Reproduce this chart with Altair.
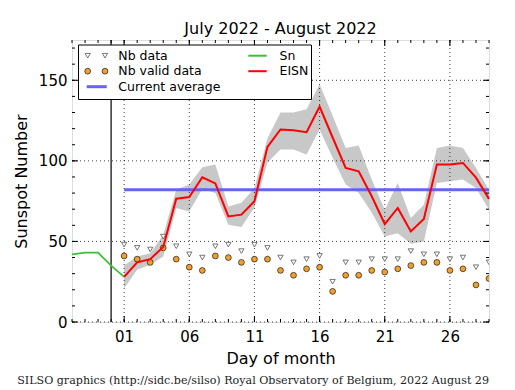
import altair as alt
import pandas as pd

# ---------------- data ----------------
days = list(range(1, 30))
eisn = [28, 37, 39, 46.5, 76.5, 77.5, 89.8, 86, 65.5, 66.6, 75, 108.7, 119.5, 119, 117.8,
        133.6, 114.5, 95.6, 93.5, 78, 60.8, 70.8, 56.2, 63.9, 97.7, 97.7, 98.7, 89.6, 76.4]
eisn_upper = [35, 40.6, 42.7, 54, 82, 85.3, 96, 97.7, 71.7, 74, 83, 114, 130, 130, 132,
              147.5, 128, 108, 109.5, 88.4, 69.7, 86.3, 64.5, 72.8, 108, 109.5, 108, 95.6, 82]
eisn_lower = [21, 32.4, 35.5, 40.6, 70.8, 68.6, 82.6, 80, 60.4, 59, 71, 99, 107, 107, 104,
              119.5, 102, 85.3, 80, 68, 53, 55, 48.5, 50, 86.3, 87.3, 88.4, 83.2, 69.7]
nb_data = [48, 46, 45, 53, 47, 42, 40, 47, 48, 44, 48, 46, 40, 37, 39,
           41, 25, 37, 37, 39, 39, 39, 44, 42, 42, 39, 40, 34, 37]
nb_valid = [41, 39, 37, 46, 39, 34, 32, 41, 40, 37, 39, 39, 32, 29, 33,
            34, 19, 29, 29, 32, 31, 33, 35, 37, 37, 32, 33, 23, 27]
sn_days = [-3, -2, -1, 0, 1]
sn_values = [42, 43, 43, 35, 28]
current_average = 82
average_days = [1, 29]
boundary_day = 0
x_domain = [-3, 29]
y_domain = [0, 175]
x_ticks = [1, 6, 11, 16, 21, 26]
x_minor = list(range(-3, 30))
y_ticks = [0, 50, 100, 150]
y_minor = list(range(0, 176, 10))
title_text = "July 2022 - August 2022"
footer_text = "SILSO graphics (http://sidc.be/silso) Royal Observatory of Belgium, 2022 August 29"

# ---------------- frames ----------------
W, H = 417, 282
main = pd.DataFrame({"day": days, "eisn": eisn, "upper": eisn_upper, "lower": eisn_lower,
                     "nb": nb_data, "valid": nb_valid})
sn = pd.DataFrame({"day": sn_days, "sn": sn_values})
avg = pd.DataFrame({"day": average_days, "avg": [current_average] * len(average_days)})
bnd = pd.DataFrame({"day": [boundary_day]})
xt = pd.DataFrame({"day": x_ticks})
xm = pd.DataFrame({"day": x_minor})
yt = pd.DataFrame({"v": y_ticks})
ym = pd.DataFrame({"v": y_minor})
one = alt.Data(values=[{"k": 1}])

FONT = "DejaVu Sans"
xs = alt.Scale(domain=x_domain, nice=False, zero=False)
ys = alt.Scale(domain=y_domain, nice=False, zero=False)
xax = alt.Axis(values=x_ticks, labelExpr="datum.value < 10 ? '0' + datum.value : '' + datum.value",
               labelFont=FONT, labelFontSize=15, labelColor="black", labelPadding=7,
               ticks=False, domain=False, grid=False, titleFont=FONT, titleFontSize=16,
               titleFontWeight="normal", titleColor="black", titlePadding=6)
yax = alt.Axis(values=y_ticks, labelFont=FONT, labelFontSize=15, labelColor="black", labelPadding=5,
               ticks=False, domain=False, grid=False, titleFont=FONT, titleFontSize=16,
               titleFontWeight="normal", titleColor="black", titlePadding=9)


def X(f="day"):
    return alt.X(f"{f}:Q", scale=xs, axis=xax, title="Day of month")


def Y(f):
    return alt.Y(f"{f}:Q", scale=ys, axis=yax, title="Sunspot Number")


band = alt.Chart(main).mark_area(color="#c8c8c8", opacity=1).encode(
    x=X(), y=Y("upper"), y2="lower")

grid_dash = [1, 3]
gx = alt.Chart(xt).mark_rule(color="black", strokeWidth=1, strokeDash=grid_dash, opacity=0.75).encode(
    x=X(), y=alt.value(0), y2=alt.value(H))
gy = alt.Chart(yt).mark_rule(color="black", strokeWidth=1, strokeDash=grid_dash, opacity=0.75).encode(
    y=Y("v"), x=alt.value(0), x2=alt.value(W))

vline = alt.Chart(bnd).mark_rule(color="black", strokeWidth=1.2).encode(
    x=X(), y=alt.value(0), y2=alt.value(H))

tri = alt.Chart(main).mark_point(shape="triangle-down", size=28, filled=True, fill="white",
                                 stroke="#555555", strokeWidth=0.8, opacity=1, clip=True).encode(
    x=X(), y=Y("nb"))
circ = alt.Chart(main).mark_point(shape="circle", size=34, filled=True, fill="#f0a030",
                                  stroke="black", strokeWidth=0.6, opacity=1, clip=True).encode(
    x=X(), y=Y("valid"))
avg_line = alt.Chart(avg).mark_line(color="#6464f0", strokeWidth=3, clip=True).encode(
    x=X(), y=Y("avg"))
sn_line = alt.Chart(sn).mark_line(color="#3cc03c", strokeWidth=1.8).encode(
    x=X(), y=Y("sn"))
eisn_line = alt.Chart(main).mark_line(color="#ff0000", strokeWidth=2).encode(
    x=X(), y=Y("eisn"))

# inward ticks on all four sides
tick_layers = []
for data, length in ((xt, 6), (xm, 3)):
    tick_layers.append(alt.Chart(data).mark_rule(color="black", strokeWidth=1).encode(
        x=X(), y=alt.value(H), y2=alt.value(H - length)))
    tick_layers.append(alt.Chart(data).mark_rule(color="black", strokeWidth=1).encode(
        x=X(), y=alt.value(0), y2=alt.value(length)))
for data, length in ((yt, 6), (ym, 3)):
    tick_layers.append(alt.Chart(data).mark_rule(color="black", strokeWidth=1).encode(
        y=Y("v"), x=alt.value(0), x2=alt.value(length)))
    tick_layers.append(alt.Chart(data).mark_rule(color="black", strokeWidth=1).encode(
        y=Y("v"), x=alt.value(W), x2=alt.value(W - length)))

# legend (matplotlib-style box)
leg = []
leg.append(alt.Chart(one).mark_rect(fill="white", stroke="black", strokeWidth=1).encode(
    x=alt.value(6.5), x2=alt.value(239.5), y=alt.value(5), y2=alt.value(59.5)))
r1, r2, r3 = 15.7, 31.2, 46.7
for mx in (15.7, 33):
    leg.append(alt.Chart(one).mark_point(shape="triangle-down", size=28, filled=True, fill="white",
                                         stroke="#555555", strokeWidth=0.8, opacity=1).encode(
        x=alt.value(mx), y=alt.value(r1)))
    leg.append(alt.Chart(one).mark_point(shape="circle", size=34, filled=True, fill="#f0a030",
                                         stroke="black", strokeWidth=0.6, opacity=1).encode(
        x=alt.value(mx), y=alt.value(r2)))
leg.append(alt.Chart(one).mark_rule(color="#6464f0", strokeWidth=3).encode(
    x=alt.value(14.7), x2=alt.value(34.7), y=alt.value(r3)))
leg.append(alt.Chart(one).mark_rule(color="#3cc03c", strokeWidth=2).encode(
    x=alt.value(176.3), x2=alt.value(194.7), y=alt.value(r1)))
leg.append(alt.Chart(one).mark_rule(color="#ff0000", strokeWidth=2).encode(
    x=alt.value(176.3), x2=alt.value(194.7), y=alt.value(r2)))
for txt, tx, ty in (("Nb data", 46.3, r1), ("Nb valid data", 46.3, r2), ("Current average", 46.3, r3),
                    ("Sn", 207.5, r1), ("EISN", 207.5, r2)):
    leg.append(alt.Chart(one).mark_text(text=txt, font=FONT, fontSize=12.5, align="left",
                                        baseline="middle", color="black").encode(
        x=alt.value(tx), y=alt.value(ty)))

footer = alt.Chart(one).mark_text(text=footer_text, font="DejaVu Serif", fontSize=11.1, align="right",
                                  baseline="middle", color="#222222").encode(
    x=alt.value(W), y=alt.value(341))

chart = alt.layer(band, gx, gy, vline, tri, circ, avg_line, sn_line, eisn_line,
                  *tick_layers, *leg, footer).properties(
    width=W, height=H,
    title=alt.TitleParams(title_text, font=FONT, fontSize=16, fontWeight="normal",
                          color="black", offset=2),
    autosize=alt.AutoSizeParams(type="none"),
    padding={"left": 64, "top": 32, "right": 18, "bottom": 68},
).configure_view(stroke="black", strokeWidth=1).configure(background="white")

chart.save("out.html", embed_options={"renderer": "svg", "actions": False})
